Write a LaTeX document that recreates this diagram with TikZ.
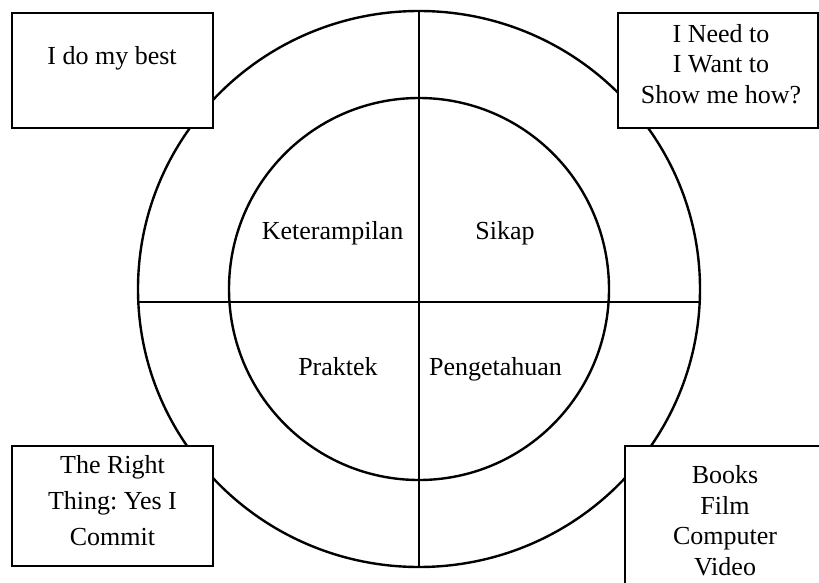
\documentclass[tikz,border=0pt]{standalone}
\usepackage{fontspec}
\setmainfont{Liberation Serif}
\usetikzlibrary{positioning}
\frenchspacing

\tikzset{
	card/.style={draw=black, line width=1.2pt, fill=white},
	cardtext/.style={align=center, inner sep=0pt, anchor=north, font=\fontsize{13}{15.25}\selectfont},
	quarter/.style={inner sep=0pt, anchor=base, font=\fontsize{13}{15.25}\selectfont}
}

\begin{document}
\begin{tikzpicture}[x=0.5pt, y=-0.5pt, line width=1.2pt]
			%%%%% START %%%%%
			\useasboundingbox (0,0) rectangle (819,583);
			
			\draw (419,289) ellipse [x radius=281, y radius=278];
			\draw (419,289) ellipse [x radius=190, y radius=191];
			
			\draw (419,11) -- (419,567);
			\draw (138.3,302) -- (699.7,302);
			
			\node[quarter] (skill) at (332.5,239.3) {Keterampilan};
			\node[quarter] (attitude) at (505,239.3) {Sikap};
			\node[quarter] (practice) at (338,375) {Praktek};
			\node[quarter] (knowledge) at (495.5,375) {Pengetahuan};
			
			\draw[card] (12,13) rectangle (213,128);
			\node[quarter] (best) at (112,65) {I do my best};
			
			\draw[card] (618,13) rectangle (818,128);
			\node[cardtext] (need) at (721,22.8) {I Need to\\I Want to\\Show me how?};
			
			\draw[card] (12,446) rectangle (213,566);
			\node[cardtext, font=\fontsize{13}{17.9}\selectfont] (commit) at (112.5,454.5) {The Right\\Thing: Yes I\\Commit};
			
			\draw[card] (625,446) rectangle (830,600);
			\node[cardtext] (media) at (725,464.5) {Books\\Film\\Computer\\Video};
			
			%%%%% END %%%%%
\end{tikzpicture}
\end{document}
